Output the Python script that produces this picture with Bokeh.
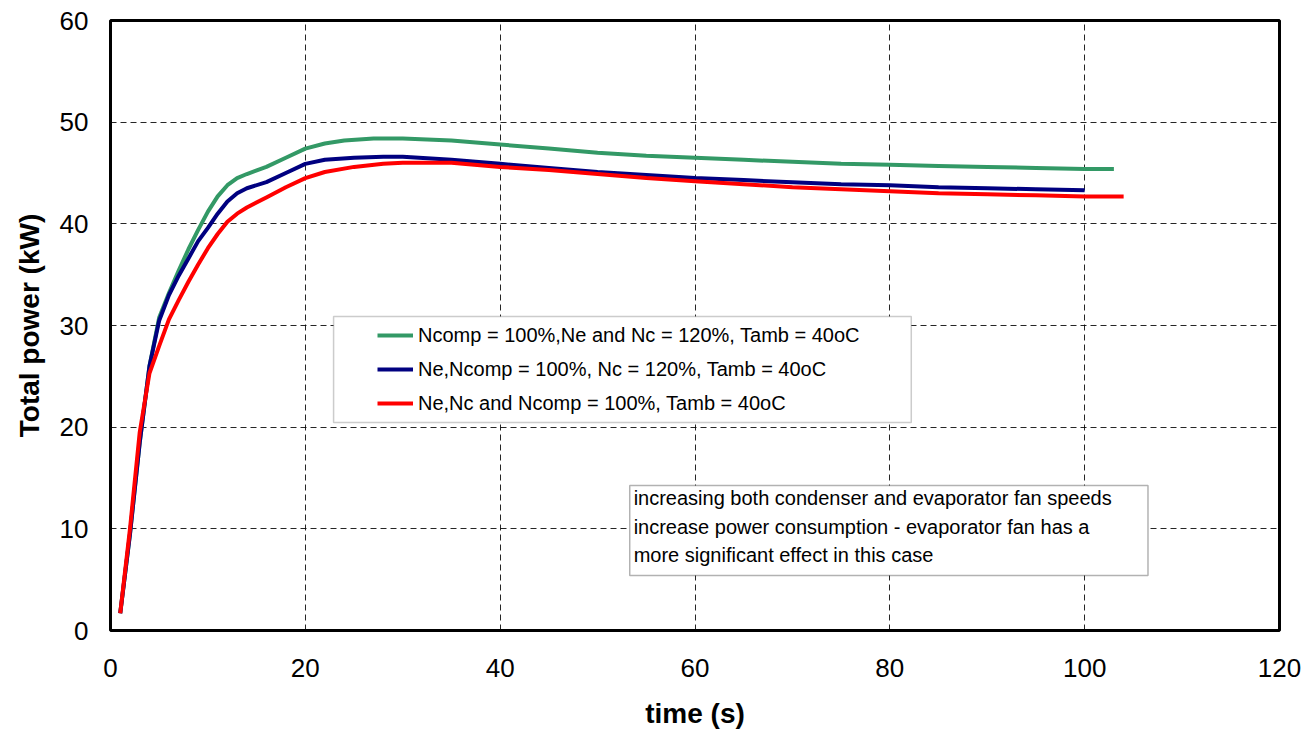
from bokeh.plotting import figure
from bokeh.models import Range1d, Legend, LegendItem, BoxAnnotation, Label, FixedTicker
from bokeh.embed import file_html
from bokeh.resources import INLINE

# ---- data ----
t_green = [1, 2, 3, 4, 5, 6, 7, 8, 9, 10, 11, 12, 13, 14, 16, 18, 20, 22, 24, 27, 30,
           35, 40, 45, 50, 55, 60, 65, 70, 75, 80, 85, 90, 95, 100, 103]
p_green = [1.7, 9.5, 18.5, 26.0, 30.8, 33.2, 35.4, 37.5, 39.4, 41.2, 42.7, 43.8, 44.5, 44.9,
           45.6, 46.5, 47.4, 47.9, 48.2, 48.4, 48.4, 48.2, 47.8, 47.4, 47.0, 46.7, 46.5,
           46.3, 46.1, 45.9, 45.8, 45.7, 45.6, 45.5, 45.4, 45.4]

t_blue = [1, 2, 3, 4, 5, 6, 7, 8, 9, 10, 11, 12, 13, 14, 16, 18, 20, 22, 25, 28, 30,
          35, 40, 45, 50, 55, 60, 65, 70, 75, 80, 85, 90, 95, 100]
p_blue = [1.7, 9.5, 18.5, 26.0, 30.5, 33.0, 34.9, 36.6, 38.3, 39.6, 41.0, 42.2, 43.0, 43.5,
          44.1, 45.0, 45.9, 46.3, 46.5, 46.6, 46.6, 46.3, 45.9, 45.5, 45.1, 44.8, 44.5,
          44.3, 44.1, 43.9, 43.8, 43.6, 43.5, 43.4, 43.3]

t_red = [1, 2, 3, 4, 5, 6, 7, 8, 9, 10, 11, 12, 13, 14, 16, 18, 20, 22, 25, 28, 30,
         35, 40, 45, 50, 55, 60, 65, 70, 75, 80, 85, 90, 95, 100, 104]
p_red = [1.7, 10.0, 19.5, 25.3, 28.0, 30.6, 32.5, 34.3, 36.0, 37.6, 39.0, 40.2, 41.0, 41.6,
         42.6, 43.6, 44.5, 45.1, 45.6, 45.9, 46.0, 46.0, 45.6, 45.3, 44.9, 44.5, 44.2,
         43.9, 43.6, 43.4, 43.2, 43.0, 42.9, 42.8, 42.7, 42.7]

series_names = ["Ncomp = 100%,Ne and Nc = 120%, Tamb = 40oC",
                "Ne,Ncomp = 100%, Nc = 120%, Tamb = 40oC",
                "Ne,Nc and Ncomp = 100%, Tamb = 40oC"]
x_ticks = [0, 20, 40, 60, 80, 100, 120]
y_ticks = [0, 10, 20, 30, 40, 50, 60]
note_text = ("increasing both condenser and evaporator fan speeds\n"
             "increase power consumption - evaporator fan has a\n"
             "more significant effect in this case")

FONT = "Liberation Sans"

p = figure(width=1307, height=736, output_backend="svg", toolbar_location=None,
           x_range=Range1d(0, 120), y_range=Range1d(0, 60),
           min_border_left=110, min_border_right=28, min_border_top=20, min_border_bottom=106)
p.background_fill_color = "white"
p.border_fill_color = "white"
p.outline_line_color = "black"
p.outline_line_width = 3

p.xaxis.ticker = FixedTicker(ticks=x_ticks)
p.yaxis.ticker = FixedTicker(ticks=y_ticks)
for ax in (p.xaxis[0], p.yaxis[0]):
    ax.axis_line_color = None
    ax.major_tick_line_color = None
    ax.minor_tick_line_color = None
    ax.major_tick_out = 0
    ax.major_tick_in = 0
    ax.major_label_text_font = FONT
    ax.major_label_text_font_size = "26px"
    ax.major_label_text_color = "black"
    ax.axis_label_text_font = FONT
    ax.axis_label_text_font_size = "28px"
    ax.axis_label_text_font_style = "bold"
    ax.axis_label_text_color = "black"

p.xaxis.axis_label = "time (s)"
p.yaxis.axis_label = "Total power (kW)"
p.xaxis.major_label_standoff = 28
p.xaxis.axis_label_standoff = 18
p.yaxis.major_label_standoff = 22
p.yaxis.axis_label_standoff = 12

p.xgrid.grid_line_color = "black"
p.ygrid.grid_line_color = "black"
p.xgrid.grid_line_width = 1
p.ygrid.grid_line_width = 1
p.xgrid.grid_line_dash = "6 4"
p.ygrid.grid_line_dash = "6 4"
p.xgrid.grid_line_alpha = 0.85
p.ygrid.grid_line_alpha = 0.85

# legend box and note box (decoration)
legend_box = BoxAnnotation(left=22.9, right=82.2, bottom=20.46, top=30.88,
                           fill_color="white", fill_alpha=1.0,
                           line_color="#555555", line_width=1.5, level="underlay")
p.add_layout(legend_box)
note_box = BoxAnnotation(left=53.3, right=106.5, bottom=5.41, top=14.26,
                         fill_color="white", fill_alpha=1.0,
                         line_color="black", line_width=1.5, level="underlay")
p.add_layout(note_box)

r_g = p.line(t_green, p_green, line_color="#339966", line_width=4)
r_b = p.line(t_blue, p_blue, line_color="#000080", line_width=4)
r_r = p.line(t_red, p_red, line_color="#FF0000", line_width=4)

legend = Legend(items=[LegendItem(label=series_names[0], renderers=[r_g]),
                       LegendItem(label=series_names[1], renderers=[r_b]),
                       LegendItem(label=series_names[2], renderers=[r_r])],
                location=(267, 215), orientation="vertical",
                border_line_color=None, background_fill_alpha=0.0,
                padding=0, margin=0, spacing=10,
                glyph_width=36, glyph_height=24, label_height=24,
                label_standoff=5, label_text_font=FONT, label_text_font_size="20px",
                label_text_color="black")
p.add_layout(legend)

note = Label(x=53.7, y=14.1, text=note_text, text_font=FONT, text_font_size="20px",
             text_baseline="top", text_align="left", text_line_height=1.3,
             text_color="black")
p.add_layout(note)

open("out.html", "w").write(file_html(p, INLINE))
